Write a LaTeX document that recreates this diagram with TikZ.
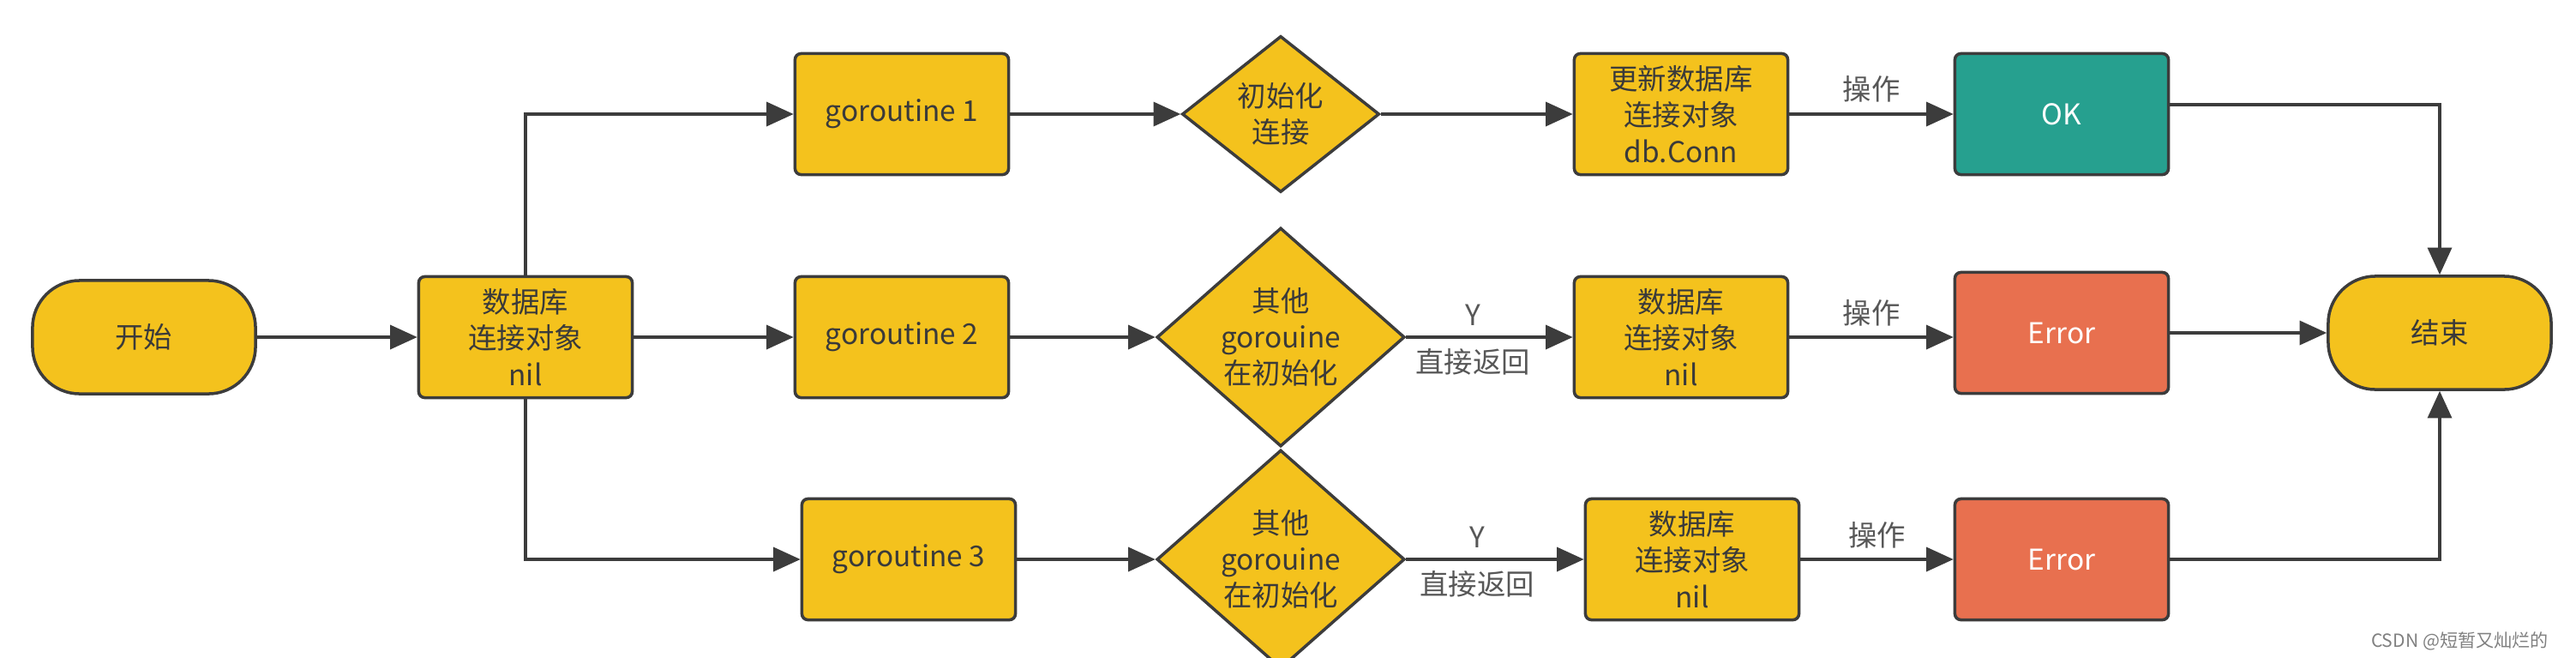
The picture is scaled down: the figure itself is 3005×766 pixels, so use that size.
\documentclass[tikz,border=0pt]{standalone}
\usepackage{fontspec}
\setmainfont{Noto Sans CJK SC}
\usepackage{tikz}
\usetikzlibrary{shapes.geometric,arrows.meta}
\definecolor{boxyellow}{HTML}{F4C21D}
\definecolor{okgreen}{HTML}{26A08F}
\definecolor{errred}{HTML}{E8704F}
\definecolor{linegray}{HTML}{3C3C3C}
\definecolor{textdark}{HTML}{3A3A3A}

\begin{document}
\begin{tikzpicture}[x=0.01cm,y=-0.01cm,
	every node/.style={font=\fontsize{9.5}{12}\selectfont,text=textdark},
	box/.style={draw=linegray,line width=1pt,fill=boxyellow,rounded corners=2pt,minimum width=2.49cm,minimum height=1.41cm,align=center,inner sep=0pt},
	terminal/.style={draw=linegray,line width=1pt,fill=boxyellow,rounded corners=0.55cm,minimum width=2.6cm,minimum height=1.32cm,inner sep=0pt},
	decide/.style={draw=linegray,line width=1pt,fill=boxyellow,diamond,align=center,inner sep=0pt},
	flow/.style={draw=linegray,line width=0.9pt,-{Triangle[length=9pt,width=8pt]}},
	tag/.style={text=textdark!85}]
				\useasboundingbox (0,0) rectangle (3005,766);
				\node[terminal] (start) at (168,393) {开始};
				\node[box] (db) at (613,393) {数据库\\连接对象\\nil};
				\node[box] (g1) at (1052,133) {goroutine 1};
				\node[box] (g2) at (1052,393) {goroutine 2};
				\node[box] (g3) at (1060,652) {goroutine 3};
				\node[decide,minimum width=2.3cm,minimum height=1.82cm] (init) at (1494,133) {初始化\\连接};
				\node[decide,minimum width=2.89cm,minimum height=2.19cm] (busy2) at (1494,393) {其他\\gorouine\\在初始化};
				\node[decide,minimum width=2.89cm,minimum height=2.19cm] (busy3) at (1494,652) {其他\\gorouine\\在初始化};
				\node[box] (conn1) at (1961,133) {更新数据库\\连接对象\\db.Conn};
				\node[box] (conn2) at (1961,393) {数据库\\连接对象\\nil};
				\node[box] (conn3) at (1974,652) {数据库\\连接对象\\nil};
				\node[box,fill=okgreen,text=white] (ok) at (2405,133) {OK};
				\node[box,fill=errred,text=white] (err2) at (2405,388) {Error};
				\node[box,fill=errred,text=white] (err3) at (2405,652) {Error};
				\node[terminal] (stop) at (2846,388) {结束};
				\node[anchor=east,font=\fontsize{6}{7}\selectfont,text=gray] (mark) at (2985,747) {CSDN @短暂又灿烂的};
				\draw[flow] (start) -- (db);
				\draw[flow] (db) |- (g1);
				\draw[flow] (db) -- (g2);
				\draw[flow] (db) |- (g3);
				\draw[flow] (g1) -- (init);
				\draw[flow] (g2) -- (busy2);
				\draw[flow] (g3) -- (busy3);
				\draw[flow] (init) -- (conn1);
				\draw[flow] (busy2) -- node[tag,above,pos=0.4] {Y} node[tag,below,pos=0.4] {直接返回} (conn2);
				\draw[flow] (busy3) -- node[tag,above,pos=0.4] {Y} node[tag,below,pos=0.4] {直接返回} (conn3);
				\draw[flow] (conn1) -- node[tag,above] {操作} (ok);
				\draw[flow] (conn2) -- node[tag,above] {操作} (err2.west |- conn2);
				\draw[flow] (conn3) -- node[tag,above] {操作} (err3);
				\draw[flow] ([yshift=0.11cm]ok.east) -| (stop);
				\draw[flow] (err2) -- (stop);
				\draw[flow] (err3) -| (stop);
\end{tikzpicture}
\end{document}
